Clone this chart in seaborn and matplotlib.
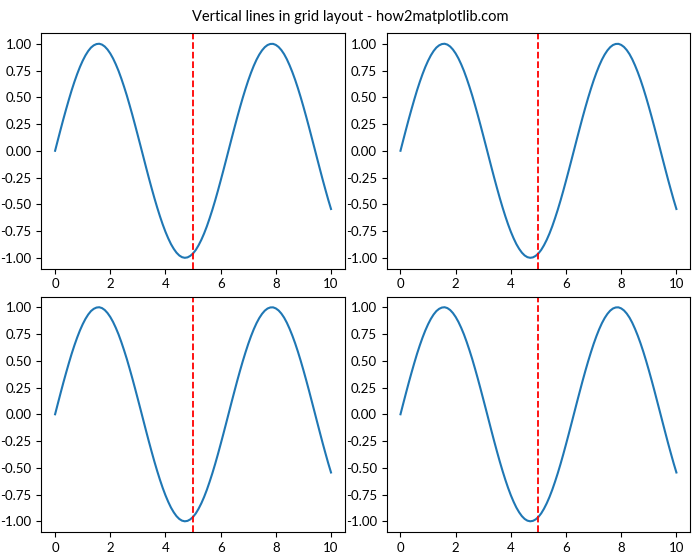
import matplotlib
matplotlib.use("Agg")
import matplotlib.pyplot as plt
import seaborn as sns
import pandas as pd

x_values = [0.0, 0.1, 0.2, 0.3, 0.4, 0.5, 0.6, 0.7, 0.8, 0.9,
            1.0, 1.1, 1.2, 1.3, 1.4, 1.5, 1.6, 1.7, 1.8, 1.9,
            2.0, 2.1, 2.2, 2.3, 2.4, 2.5, 2.6, 2.7, 2.8, 2.9,
            3.0, 3.1, 3.2, 3.3, 3.4, 3.5, 3.6, 3.7, 3.8, 3.9,
            4.0, 4.1, 4.2, 4.3, 4.4, 4.5, 4.6, 4.7, 4.8, 4.9,
            5.0, 5.1, 5.2, 5.3, 5.4, 5.5, 5.6, 5.7, 5.8, 5.9,
            6.0, 6.1, 6.2, 6.3, 6.4, 6.5, 6.6, 6.7, 6.8, 6.9,
            7.0, 7.1, 7.2, 7.3, 7.4, 7.5, 7.6, 7.7, 7.8, 7.9,
            8.0, 8.1, 8.2, 8.3, 8.4, 8.5, 8.6, 8.7, 8.8, 8.9,
            9.0, 9.1, 9.2, 9.3, 9.4, 9.5, 9.6, 9.7, 9.8, 9.9, 10.0]
y_values = [0.000, 0.100, 0.199, 0.296, 0.389, 0.479, 0.565, 0.644, 0.717, 0.783,
            0.841, 0.891, 0.932, 0.964, 0.985, 0.997, 1.000, 0.992, 0.974, 0.946,
            0.909, 0.863, 0.808, 0.746, 0.675, 0.598, 0.516, 0.427, 0.335, 0.239,
            0.141, 0.042, -0.058, -0.158, -0.256, -0.351, -0.443, -0.530, -0.612, -0.688,
            -0.757, -0.818, -0.872, -0.916, -0.952, -0.978, -0.994, -1.000, -0.996, -0.982,
            -0.959, -0.926, -0.883, -0.832, -0.773, -0.706, -0.631, -0.551, -0.465, -0.374,
            -0.279, -0.182, -0.083, 0.017, 0.117, 0.215, 0.312, 0.405, 0.494, 0.578,
            0.657, 0.729, 0.794, 0.851, 0.899, 0.938, 0.968, 0.988, 0.998, 0.999,
            0.989, 0.970, 0.941, 0.903, 0.855, 0.798, 0.734, 0.663, 0.585, 0.501,
            0.412, 0.319, 0.223, 0.124, 0.025, -0.075, -0.174, -0.272, -0.366, -0.458, -0.544]
vline_x = 5
xtick_values = [0, 2, 4, 6, 8, 10]
ytick_values = [-1.0, -0.75, -0.5, -0.25, 0.0, 0.25, 0.5, 0.75, 1.0]
title = "Vertical lines in grid layout - how2matplotlib.com"

plt.rcParams['font.family'] = ['Lato', 'DejaVu Sans']
plt.rcParams['font.size'] = 9.5
plt.rcParams['axes.unicode_minus'] = False

df = pd.DataFrame({"x": x_values, "y": y_values})

fig, axes = plt.subplots(2, 2, figsize=(7, 5.6), dpi=100)
for ax in axes.flat:
    sns.lineplot(data=df, x="x", y="y", ax=ax, color="#1f77b4", linewidth=1.5)
    ax.axvline(vline_x, color="red", linestyle="--", linewidth=1.3)
    ax.set_xlabel("")
    ax.set_ylabel("")
    ax.set_xticks(xtick_values)
    ax.set_yticks(ytick_values)
    ax.set_yticklabels([f"{v:.2f}" for v in ytick_values])
fig.suptitle(title, fontsize=10.5, y=0.97, va="center")
fig.subplots_adjust(left=0.059, right=0.986, top=0.941, bottom=0.05,
                    wspace=0.138, hspace=0.119)
fig.savefig("out.png", dpi=100)
